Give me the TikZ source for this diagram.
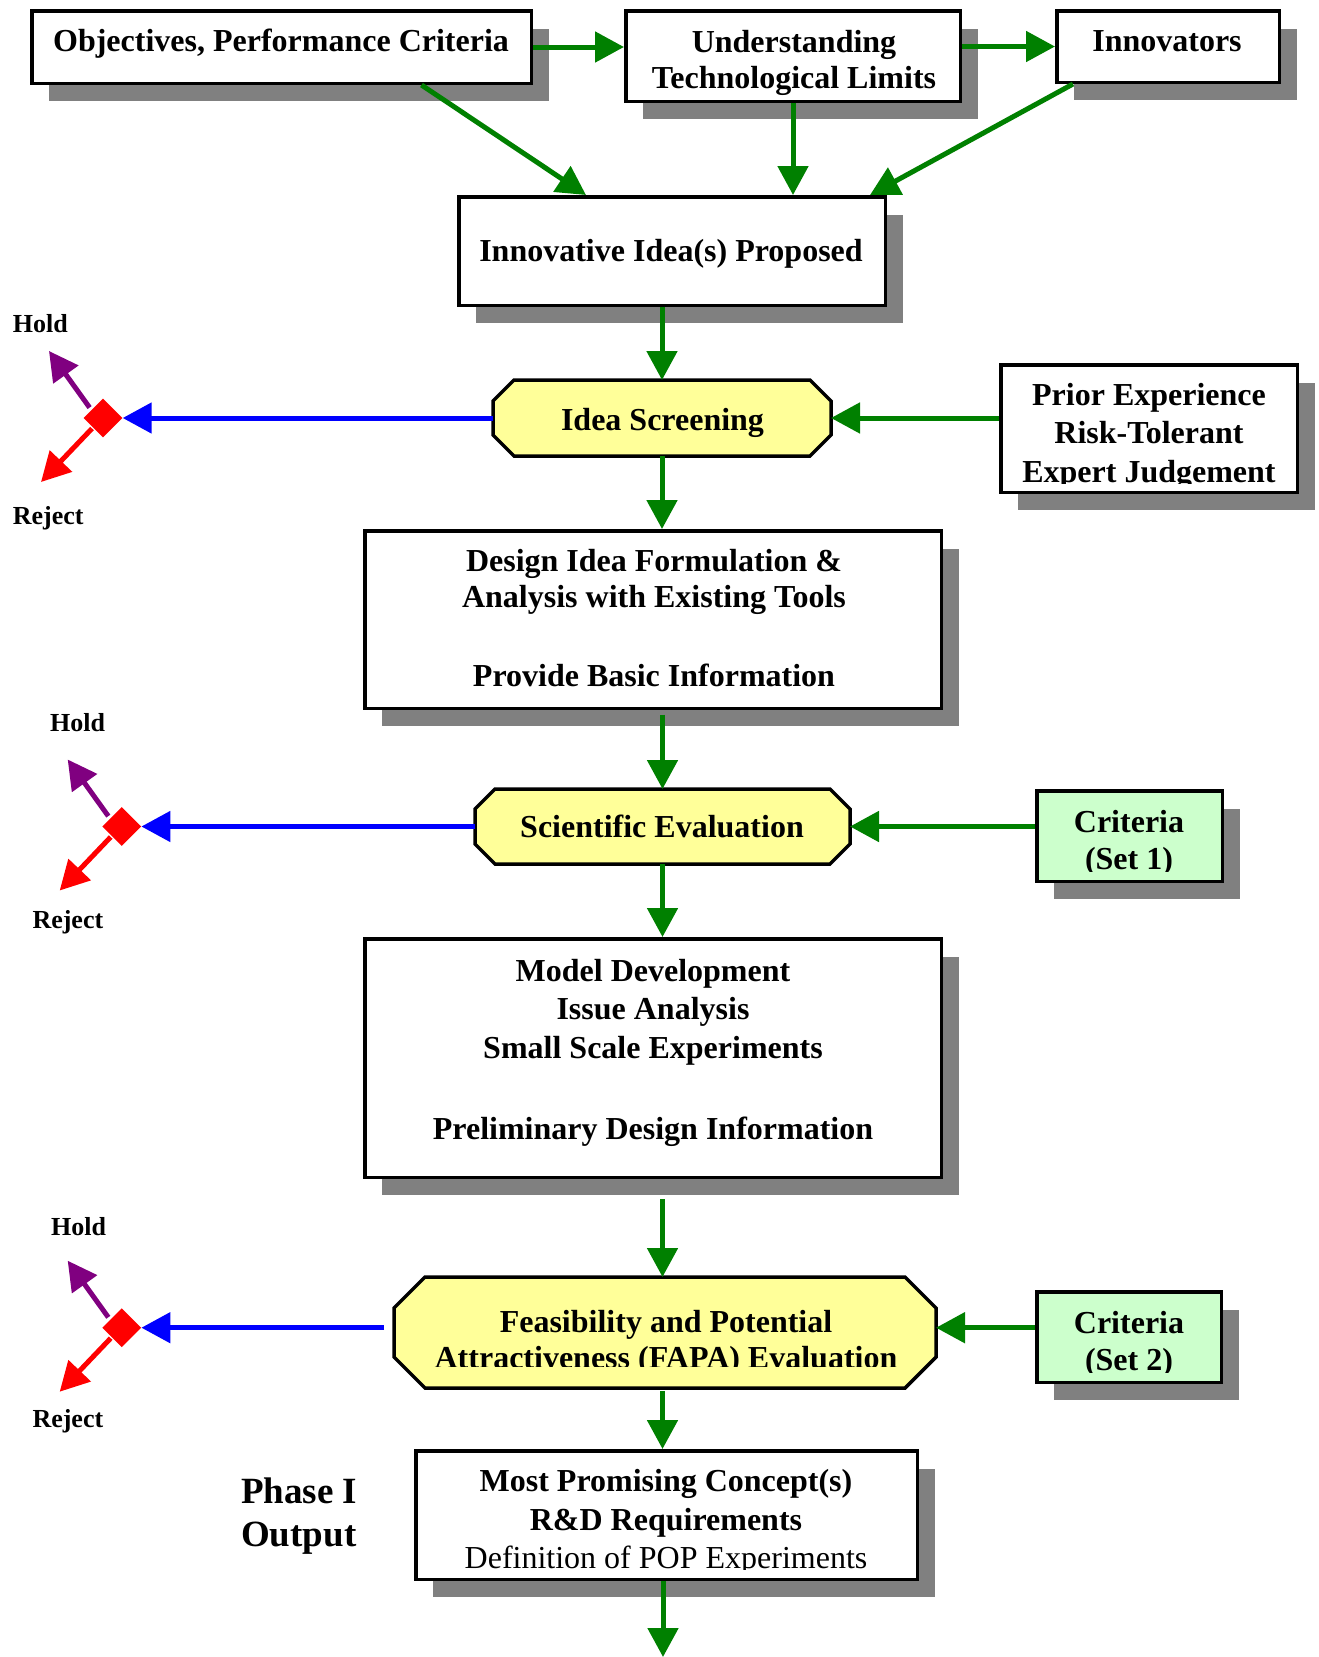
\documentclass[tikz,border=0pt]{standalone}
\usepackage{fontspec}
\setmainfont{Liberation Serif}
\usetikzlibrary{arrows.meta,shapes.geometric,shadows}
\definecolor{garr}{HTML}{008000}
\definecolor{barr}{HTML}{0000FF}
\definecolor{parr}{HTML}{800080}
\definecolor{rarr}{HTML}{FF0000}
\definecolor{shgray}{HTML}{808080}
\definecolor{octfill}{HTML}{FFFF99}
\definecolor{critfill}{HTML}{CCFFCC}
\tikzset{
  boxnode/.style={draw=black, line width=3.5pt, fill=white, inner sep=0pt,
    drop shadow={shadow xshift=17.25pt, shadow yshift=-18pt, fill=shgray, opacity=1}},
  critnode/.style={boxnode, fill=critfill},
  octframe/.style={draw=none, inner sep=0pt, outer sep=1.75pt},
  octline/.style={draw=black, line width=3.5pt, fill=octfill, line join=miter},
  lbl/.style={font=\bfseries\fontsize{32}{#1}\selectfont, align=center, anchor=base, inner sep=0pt},
  lbl/.default=36,
  small/.style={font=\bfseries\fontsize{26}{30}\selectfont, anchor=base west, inner sep=0pt},
  conn/.style={line width=5pt, -{Triangle[length=29pt,width=30pt]}},
  garrow/.style={conn, draw=garr},
  barrow/.style={conn, draw=barr},
  parrow/.style={conn, draw=parr},
  rarrow/.style={conn, draw=rarr},
  dmd/.style={diamond, aspect=1, fill=rarr, inner sep=0pt, minimum width=39pt, minimum height=39pt},
}
\newcommand\octdraw[2]{%
  \draw[octline] ([xshift=#2]#1.north west) -- ([xshift=-#2]#1.north east)
    -- ([yshift=-#2]#1.north east) -- ([yshift=#2]#1.south east)
    -- ([xshift=-#2]#1.south east) -- ([xshift=#2]#1.south west)
    -- ([yshift=#2]#1.south west) -- ([yshift=-#2]#1.north west) -- cycle;}
\begin{document}
\begin{tikzpicture}[x=1pt,y=-1pt]
\useasboundingbox (0,0) rectangle (1319,1657);
\fill[white] (0,0) rectangle (1319,1657);

% ---- boxes ----
\node[boxnode, minimum width=499.5pt, minimum height=72.5pt] (obj) at (281.5,47) {};
\node[boxnode, minimum width=334.5pt, minimum height=90.5pt] (und) at (793,56) {};
\node[boxnode, minimum width=222.5pt, minimum height=71.5pt] (inn) at (1168,46.5) {};
\node[boxnode, minimum width=426.5pt, minimum height=108.5pt] (idea) at (672,251) {};
\node[boxnode, minimum width=296.5pt, minimum height=127.5pt] (prior) at (1149,428.5) {};
\node[boxnode, minimum width=576.5pt, minimum height=177.5pt] (design) at (653,619.5) {};
\node[critnode, minimum width=185.5pt, minimum height=90.5pt] (crit1) at (1129.5,836) {};
\node[boxnode, minimum width=576.5pt, minimum height=238.5pt] (model) at (653,1058) {};
\node[critnode, minimum width=184.5pt, minimum height=90.5pt] (crit2) at (1129,1337) {};
\node[boxnode, minimum width=501.5pt, minimum height=128.5pt] (most) at (666.5,1515) {};

% ---- octagons ----
\node[octframe, minimum width=334.5pt, minimum height=72.5pt] (scr) at (662,418) {};
\octdraw{scr}{21pt}
\node[octframe, minimum width=371.5pt, minimum height=71.5pt] (sci) at (662.5,826.5) {};
\octdraw{sci}{20pt}
\node[octframe, minimum width=538.5pt, minimum height=107.5pt] (fapa) at (665,1332.5) {};
\octdraw{fapa}{31pt}

% ---- decision diamonds ----
\node[dmd] (d1) at (103,418) {};
\node[dmd] (d2) at (121.7,826.5) {};
\node[dmd] (d3) at (121.7,1327.7) {};

% ---- texts (anchor = baseline of the last line) ----
\node[lbl] (tobj) at (281,51.7) {Objectives, Performance Criteria};
\node[lbl=35.6] (tund) at (794,88.5) {Understanding\\Technological Limits};
\node[lbl] (tinn) at (1167,51.7) {Innovators};
\node[lbl] (tidea) at (671,261.7) {Innovative Idea(s) Proposed};
\node[lbl] (tscr) at (662.5,430) {Idea Screening};
\begin{scope}
  \clip (999,363) rectangle (1299,483);
  \node[lbl=38.2] (tprior) at (1149,482) {Prior Experience\\Risk-Tolerant\\Expert Judgement};
\end{scope}
\node[lbl=35.6] (tdesign) at (654,686.7) {Design Idea Formulation \&\\Analysis with Existing Tools\\[43.8pt]Provide Basic Information};
\node[lbl] (tsci) at (662,837.5) {Scientific Evaluation};
\begin{scope}
  \clip (1035,789) rectangle (1224,871);
  \node[lbl=36.6] (tcrit1) at (1129,869.5) {Criteria\\(Set 1)};
\end{scope}
\node[lbl=38.6] (tmodel) at (653,1139.3) {Model Development\\Issue Analysis\\Small Scale Experiments\\[42.4pt]Preliminary Design Information};
\begin{scope}
  \clip (394,1277) rectangle (936,1366);
  \node[lbl=36.5] (tfapa) at (666,1368.5) {Feasibility and Potential\\Attractiveness (FAPA) Evaluation};
\end{scope}
\begin{scope}
  \clip (1035,1290) rectangle (1223,1372);
  \node[lbl=36.6] (tcrit2) at (1129,1370) {Criteria\\(Set 2)};
\end{scope}
\begin{scope}
  \clip (414,1449) rectangle (919,1569);
  \node[lbl=38.5] (tmost) at (666,1568.5) {Most Promising Concept(s)\\R\&D Requirements\\{\mdseries Definition of POP Experiments}};
\end{scope}
\node[font=\bfseries\fontsize{37}{43.3}\selectfont, align=left, anchor=base west, inner sep=0pt] (tphase) at (241,1546.6) {Phase I\\Output};

\node[small] (hold1) at (12.6,332.3) {Hold};
\node[small] (rej1) at (12.6,524) {Reject};
\node[small] (hold2) at (50,731.7) {Hold};
\node[small] (rej2) at (32.3,928.3) {Reject};
\node[small] (hold3) at (51,1235) {Hold};
\node[small] (rej3) at (32.3,1427.7) {Reject};

% ---- connectors ----
\draw[garrow] (obj.east) -- (und.west |- obj.east);
\draw[garrow] (und.east |- inn.west) -- (inn.west);
\draw[garrow] ([xshift=140pt]obj.south) -- ([xshift=-86pt]idea.north);
\draw[garrow] (und.south) -- (und.south |- idea.north);
\draw[garrow] ([xshift=-95pt]inn.south) -- ([xshift=198pt]idea.north);
\draw[garrow] (scr.north |- idea.south) -- (scr.north);
\draw[garrow] (prior.west |- scr.east) -- (scr.east);
\draw[garrow] (scr.south) -- (scr.south |- design.north);
\coordinate (d2s) at ([yshift=-4.5pt]design.south);
\draw[garrow] (d2s -| sci.north) -- (sci.north);
\draw[garrow] (crit1.west |- sci.east) -- (sci.east);
\draw[garrow] (sci.south) -- (sci.south |- model.north);
\coordinate (m2f) at ([yshift=-20pt]model.south);
\draw[garrow] (m2f -| sci.north) -- (sci.north |- fapa.north);
\draw[garrow] (crit2.west |- d3) -- (fapa.east |- d3);
\coordinate (f2m) at ([yshift=-3pt]fapa.south);
\draw[garrow] (f2m -| sci.north) -- (sci.north |- most.north);
\coordinate (bottomend) at (663,1657);
\draw[garrow] (most.south -| bottomend) -- (bottomend);

\draw[barrow] (scr.west) -- (d1.east);
\draw[barrow] (sci.west) -- (d2.east);
\coordinate (fb) at ([xshift=-10pt]fapa.west);
\draw[barrow] (fb |- d3) -- (d3.east);

\foreach \d in {d1,d2,d3}{
  \draw[parrow] ([shift={(-13.4pt,10.4pt)}]\d.center) -- ([shift={(-54pt,67pt)}]\d.center);
  \draw[rarrow] ([shift={(-11pt,-10.5pt)}]\d.center) -- ([shift={(-62pt,-64pt)}]\d.center);
}
\end{tikzpicture}
\end{document}
